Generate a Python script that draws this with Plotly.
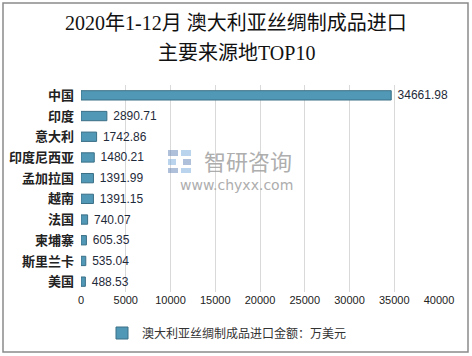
import plotly.graph_objects as go

countries = ["中国", "印度", "意大利", "印度尼西亚", "孟加拉国", "越南", "法国", "柬埔寨", "斯里兰卡", "美国"]
values = [34661.98, 2890.71, 1742.86, 1480.21, 1391.99, 1391.15, 740.07, 605.35, 535.04, 488.53]
value_labels = ["34661.98", "2890.71", "1742.86", "1480.21", "1391.99", "1391.15", "740.07", "605.35", "535.04", "488.53"]
tick_vals = [0, 5000, 10000, 15000, 20000, 25000, 30000, 35000, 40000]
tick_text = ["0", "5000", "10000", "15000", "20000", "25000", "30000", "35000", "40000"]
series_name = "澳大利亚丝绸制成品进口金额：万美元"
title_line1 = "2020年1-12月 澳大利亚丝绸制成品进口"
title_line2 = "主要来源地TOP10"

L, R, T, B = 81, 439, 85, 292
W, H = 472, 356
pw, ph = R - L, B - T

def px(x):
    return (x - L) / pw

def py(y):
    return (B - y) / ph

fig = go.Figure()
fig.add_trace(go.Bar(
    y=countries, x=values, orientation="h", name=series_name,
    width=0.45,
    marker=dict(color="#5198b6", line=dict(color="#3a6f86", width=1)),
    text=["\u00a0" + s for s in value_labels], textposition="outside", cliponaxis=False,
    constraintext="none",
    textfont=dict(family="Liberation Sans, Arial", size=12, color="#1f2a3a"),
))

fig.update_layout(
    width=W, height=H,
    paper_bgcolor="white", plot_bgcolor="white",
    margin=dict(l=L, r=W - R, t=T, b=H - B, autoexpand=False),
    xaxis=dict(range=[0, 40000], tickvals=tick_vals, ticktext=tick_text, showgrid=True,
               gridcolor="#d9d9d9", gridwidth=1, zeroline=False, showline=False, ticks="",
               automargin=False,
               tickfont=dict(family="Liberation Sans, Arial", size=11, color="#222222")),
    yaxis=dict(autorange="reversed", showgrid=False, showline=False, ticks="",
               automargin=False, ticksuffix="  ",
               tickfont=dict(family="Noto Sans CJK SC", size=13, color="#222222", weight="bold")),
    showlegend=True,
    legend=dict(orientation="h", x=px(102), xanchor="left", y=py(333), yanchor="middle",
                font=dict(family="Noto Sans CJK SC", size=12, color="#333333"),
                itemwidth=30),
)

# outer border
fig.add_shape(type="rect", xref="paper", yref="paper",
              x0=px(3), x1=px(468), y0=py(352), y1=py(3),
              line=dict(color="#8a8a8a", width=1.5), fillcolor="rgba(0,0,0,0)")

# title
fig.add_annotation(xref="paper", yref="paper", x=px(236), y=py(23), text=title_line1,
                   showarrow=False, yanchor="middle",
                   font=dict(family="Liberation Serif, Noto Sans CJK SC", size=20, color="#111111"))
fig.add_annotation(xref="paper", yref="paper", x=px(236), y=py(53), text=title_line2,
                   showarrow=False, yanchor="middle",
                   font=dict(family="Liberation Serif, Noto Sans CJK SC", size=20, color="#111111"))

# watermark logo blocks
logo = [(168, 150, 178, 156), (168, 159, 176, 165), (168, 168, 178, 173),
        (181, 150, 191, 156), (183, 159, 191, 165), (181, 168, 191, 173)]
for i, (x0, y0, x1, y1) in enumerate(logo):
    fig.add_shape(type="rect", xref="paper", yref="paper",
                  x0=px(x0), x1=px(x1), y0=py(y1), y1=py(y0),
                  line=dict(width=0),
                  fillcolor="rgba(110,140,190,0.55)" if i % 2 == 0 else "rgba(120,170,220,0.5)")
fig.add_annotation(xref="paper", yref="paper", x=px(248), y=py(160),
                   text="智研咨询", showarrow=False, yanchor="middle",
                   font=dict(family="Noto Sans CJK SC", size=22, color="#a0a0a0"), opacity=0.85)
fig.add_annotation(xref="paper", yref="paper", x=px(236), y=py(185),
                   text="www.chyxx.com", showarrow=False, yanchor="middle",
                   font=dict(family="DejaVu Sans", size=14, color="#a0a0a0"), opacity=0.85)

fig.write_html("out.html", config={"displayModeBar": False},
               post_script="document.body.style.margin='0';")
